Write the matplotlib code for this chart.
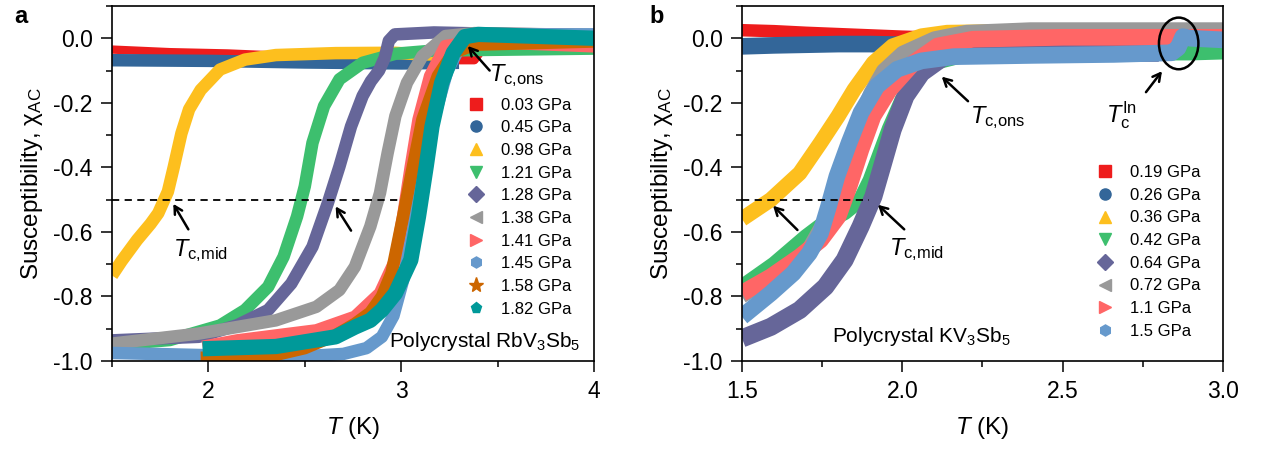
import matplotlib
matplotlib.use("Agg")
import matplotlib.pyplot as plt
from matplotlib.ticker import MultipleLocator, FormatStrFormatter
from matplotlib.patches import Ellipse

plt.rcParams['font.family'] = ['Liberation Sans', 'DejaVu Sans']
plt.rcParams['mathtext.fontset'] = 'custom'
plt.rcParams['mathtext.rm'] = 'Liberation Sans'
plt.rcParams['mathtext.it'] = 'Liberation Sans:italic'
plt.rcParams['mathtext.bf'] = 'Liberation Sans:bold'
plt.rcParams['axes.unicode_minus'] = False

# ---- panel a: polycrystal RbV3Sb5 ----
rb_labels = ['0.03 GPa', '0.45 GPa', '0.98 GPa', '1.21 GPa', '1.28 GPa',
             '1.38 GPa', '1.41 GPa', '1.45 GPa', '1.58 GPa', '1.82 GPa']
rb_colors = ['#ee1c1c', '#336699', '#fdbf1e', '#3dbf6e', '#666699',
             '#999999', '#ff6666', '#6699cc', '#cc6600', '#009999']
rb_markers = ['s', 'o', '^', 'v', 'D', '<', '>', 'h', '*', 'p']
rb_T = [
    [1.5, 1.8, 2.1, 2.3, 2.6, 2.9, 3.27, 3.38, 3.42, 3.5],
    [1.5, 2.0, 2.5, 3.0, 3.3],
    [1.5, 1.55, 1.63, 1.7, 1.74, 1.79, 1.82, 1.86, 1.9, 1.96, 2.06, 2.19, 2.35, 2.66, 2.97, 3.1, 3.25],
    [1.5, 1.8, 2.06, 2.19, 2.31, 2.39, 2.46, 2.5, 2.54, 2.6, 2.68, 2.8, 2.97, 3.17, 4.0],
    [1.5, 1.95, 2.15, 2.31, 2.43, 2.54, 2.62, 2.68, 2.74, 2.8, 2.843, 2.885, 2.915, 2.936, 2.967, 3.17, 3.4, 4.0],
    [1.5, 1.95, 2.35, 2.56, 2.68, 2.76, 2.84, 2.89, 2.93, 2.97, 3.03, 3.11, 3.23, 3.38, 4.0],
    [1.97, 2.15, 2.56, 2.76, 2.89, 2.97, 3.01, 3.05, 3.09, 3.15, 3.23, 3.38, 4.0],
    [1.5, 2.0, 2.5, 2.7, 2.82, 2.9, 2.96, 3.01, 3.06, 3.1, 3.16, 3.24, 3.32, 3.4, 4.0],
    [1.96, 2.3, 2.5, 2.66, 2.76, 2.84, 2.9, 2.95, 3.01, 3.05, 3.11, 3.19, 3.27, 3.38, 4.0],
    [1.97, 2.35, 2.66, 2.76, 2.84, 2.9, 2.97, 3.05, 3.09, 3.13, 3.16, 3.21, 3.27, 3.33, 3.4, 4.0],
]
rb_chi = [
    [-0.035, -0.043, -0.047, -0.052, -0.072, -0.074, -0.068, -0.068, -0.035, -0.03],
    [-0.068, -0.07, -0.075, -0.078, -0.076],
    [-0.735, -0.69, -0.625, -0.575, -0.542, -0.475, -0.4, -0.295, -0.22, -0.16, -0.097, -0.066, -0.052, -0.046, -0.045, -0.05, -0.05],
    [-0.95, -0.935, -0.89, -0.842, -0.77, -0.677, -0.552, -0.459, -0.324, -0.21, -0.127, -0.076, -0.048, -0.038, -0.032],
    [-0.936, -0.925, -0.889, -0.842, -0.76, -0.646, -0.51, -0.397, -0.273, -0.179, -0.133, -0.1, -0.06, -0.008, 0.012, 0.018, 0.015, 0.01],
    [-0.946, -0.915, -0.874, -0.832, -0.78, -0.708, -0.583, -0.48, -0.355, -0.241, -0.138, -0.055, 0.007, 0.016, 0.01],
    [-0.956, -0.936, -0.905, -0.863, -0.79, -0.687, -0.552, -0.397, -0.252, -0.117, -0.024, -0.01, -0.025],
    [-0.975, -0.982, -0.985, -0.978, -0.96, -0.925, -0.86, -0.75, -0.6, -0.45, -0.27, -0.1, -0.01, 0.012, 0.012],
    [-0.99, -0.988, -0.96, -0.92, -0.885, -0.85, -0.8, -0.728, -0.552, -0.43, -0.252, -0.117, -0.045, -0.02, -0.01],
    [-0.962, -0.955, -0.925, -0.895, -0.874, -0.842, -0.79, -0.687, -0.552, -0.397, -0.273, -0.138, -0.045, 0.005, 0.012, 0.0],
]
rb_widths = [6, 9, 9, 9, 9, 9, 9, 9, 9, 11]

# ---- panel b: polycrystal KV3Sb5 ----
k_labels = ['0.19 GPa', '0.26 GPa', '0.36 GPa', '0.42 GPa', '0.64 GPa',
            '0.72 GPa', '1.1 GPa', '1.5 GPa']
k_colors = ['#ee1c1c', '#336699', '#fdbf1e', '#3dbf6e', '#666699',
            '#999999', '#ff6666', '#6699cc']
k_markers = ['s', 'o', '^', 'v', 'D', '<', '>', 'h']
k_T = [
    [1.5, 1.6, 1.7, 1.8, 1.9, 2.0, 2.1, 2.3, 2.6, 2.9, 3.0],
    [1.5, 1.6, 1.7, 1.8, 1.9, 2.0, 2.3, 3.0],
    [1.5, 1.59, 1.68, 1.745, 1.8, 1.85, 1.91, 1.97, 2.06, 2.14, 2.3, 3.0],
    [1.5, 1.6, 1.7, 1.76, 1.82, 1.87, 1.9, 1.93, 1.96, 2.0, 2.05, 2.1, 2.2, 2.6, 2.9, 3.0],
    [1.5, 1.59, 1.68, 1.76, 1.82, 1.87, 1.91, 1.94, 1.97, 2.01, 2.06, 2.14, 2.3, 2.6, 2.8],
    [1.5, 1.6, 1.7, 1.76, 1.8, 1.84, 1.87, 1.9, 1.94, 2.0, 2.1, 2.2, 2.4, 3.0],
    [1.5, 1.59, 1.68, 1.745, 1.8, 1.834, 1.871, 1.909, 1.96, 2.035, 2.11, 2.22, 2.5, 3.0],
    [1.5, 1.59, 1.66, 1.71, 1.745, 1.77, 1.796, 1.834, 1.871, 1.921, 1.984, 2.06, 2.16, 2.41, 2.66, 2.84, 2.86, 2.875, 2.9, 3.0],
]
k_chi = [
    [0.025, 0.022, 0.017, 0.013, 0.009, 0.005, 0.002, 0.0, 0.0, 0.003, 0.01],
    [-0.025, -0.022, -0.02, -0.018, -0.018, -0.02, -0.02, -0.02],
    [-0.56, -0.5, -0.418, -0.324, -0.241, -0.159, -0.076, -0.024, 0.007, 0.018, 0.02, 0.02],
    [-0.77, -0.7, -0.615, -0.57, -0.54, -0.5, -0.44, -0.36, -0.28, -0.19, -0.12, -0.075, -0.05, -0.045, -0.045, -0.042],
    [-0.93, -0.894, -0.842, -0.77, -0.687, -0.583, -0.49, -0.387, -0.283, -0.179, -0.107, -0.05, -0.045, -0.045, -0.045],
    [-0.8, -0.74, -0.665, -0.56, -0.45, -0.33, -0.24, -0.17, -0.1, -0.045, 0.0, 0.02, 0.028, 0.028],
    [-0.79, -0.739, -0.677, -0.625, -0.552, -0.459, -0.345, -0.241, -0.159, -0.076, -0.024, -0.003, 0.003, 0.003],
    [-0.863, -0.79, -0.728, -0.666, -0.604, -0.521, -0.428, -0.324, -0.231, -0.148, -0.096, -0.07, -0.057, -0.053, -0.05, -0.045, -0.03, 0.005, 0.0, -0.005],
]
k_widths = [9, 12, 11, 11, 13, 10, 12, 12]

fig = plt.figure(figsize=(12.64, 4.54), dpi=100)
ax1 = fig.add_axes([0.0886, 0.2048, 0.3813, 0.782])
ax2 = fig.add_axes([0.587, 0.2048, 0.3805, 0.782])


def style_axis(ax):
    for s in ax.spines.values():
        s.set_linewidth(1.2)
    ax.tick_params(which='both', direction='out', width=1.1, labelsize=16.5,
                   top=False, right=False)
    ax.tick_params(which='major', length=8, pad=6)
    ax.tick_params(which='minor', length=4.5)
    ax.set_ylim(-1.0, 0.1)
    ax.yaxis.set_major_locator(MultipleLocator(0.2))
    ax.yaxis.set_minor_locator(MultipleLocator(0.1))
    ax.yaxis.set_major_formatter(FormatStrFormatter('%.1f'))
    ax.set_ylabel('Susceptibility, χ$_{\\rm AC}$', fontsize=17.5, labelpad=6)
    ax.set_xlabel('$T$ (K)', fontsize=17.5, labelpad=8)


def draw_bands(ax, Ts, chis, colors, widths, markers, labels):
    for T, c, col, w in zip(Ts, chis, colors, widths):
        ax.plot(T, c, color=col, lw=w, solid_joinstyle='round',
                solid_capstyle='butt')
    for col, m, lab in zip(colors, markers, labels):
        ms = 11 if m == '*' else 8
        ax.plot([], [], ls='none', marker=m, color=col, ms=ms, label=lab)


def tc_arrow(ax, head, tail):
    ax.annotate('', xy=head, xytext=tail,
                arrowprops=dict(arrowstyle='->,head_length=0.55,head_width=0.3',
                                lw=1.8, color='black', shrinkA=0, shrinkB=0))


legend_opts = dict(loc='upper left', frameon=False, fontsize=12,
                   handlelength=1.0, handletextpad=1.0, labelspacing=0.46,
                   borderpad=0, borderaxespad=0, numpoints=1)

# panel a
draw_bands(ax1, rb_T, rb_chi, rb_colors, rb_widths, rb_markers, rb_labels)
style_axis(ax1)
ax1.set_xlim(1.5, 4.0)
ax1.xaxis.set_major_locator(MultipleLocator(1))
ax1.xaxis.set_minor_locator(MultipleLocator(0.5))
ax1.xaxis.set_major_formatter(FormatStrFormatter('%d'))
ax1.plot([1.5, 2.99], [-0.5, -0.5], ls=(0, (4, 3)), color='black', lw=1.3)
tc_arrow(ax1, (1.818, -0.513), (1.896, -0.592))
tc_arrow(ax1, (2.66, -0.521), (2.74, -0.596))
tc_arrow(ax1, (3.346, -0.024), (3.459, -0.10))
ax1.text(1.815, -0.675, '$T_{\\rm c{,}mid}$', fontsize=17, ha='left', va='baseline')
ax1.text(3.455, -0.133, '$T_{\\rm c{,}ons}$', fontsize=17, ha='left', va='baseline')
ax1.text(3.93, -0.957, 'Polycrystal RbV$_3$Sb$_5$', fontsize=15, ha='right', va='baseline')
ax1.legend(bbox_to_anchor=(0.738, 0.742), **legend_opts)

# panel b
draw_bands(ax2, k_T, k_chi, k_colors, k_widths, k_markers, k_labels)
style_axis(ax2)
ax2.set_xlim(1.5, 3.0)
ax2.xaxis.set_major_locator(MultipleLocator(0.5))
ax2.xaxis.set_minor_locator(MultipleLocator(0.25))
ax2.xaxis.set_major_formatter(FormatStrFormatter('%.1f'))
ax2.plot([1.5, 1.897], [-0.5, -0.5], ls=(0, (4, 3)), color='black', lw=1.3)
tc_arrow(ax2, (1.597, -0.519), (1.673, -0.594))
tc_arrow(ax2, (1.924, -0.516), (2.006, -0.592))
tc_arrow(ax2, (2.123, -0.119), (2.205, -0.195))
tc_arrow(ax2, (2.81, -0.102), (2.76, -0.167))
ax2.add_patch(Ellipse((2.862, -0.016), 0.123, 0.16, fill=False, lw=1.8,
                      edgecolor='black', zorder=5))
ax2.text(1.96, -0.672, '$T_{\\rm c{,}mid}$', fontsize=17, ha='left', va='baseline')
ax2.text(2.21, -0.262, '$T_{\\rm c{,}ons}$', fontsize=17, ha='left', va='baseline')
ax2.text(2.635, -0.262, '$T_{\\rm c}^{\\rm In}$', fontsize=17, ha='left', va='baseline')
ax2.text(1.78, -0.941, 'Polycrystal KV$_3$Sb$_5$', fontsize=15, ha='left', va='baseline')
ax2.legend(bbox_to_anchor=(0.737, 0.552), **legend_opts)

fig.text(0.011, 0.988, 'a', fontsize=17, fontweight='bold', ha='left', va='top')
fig.text(0.514, 0.988, 'b', fontsize=17, fontweight='bold', ha='left', va='top')

fig.savefig('out.png', dpi=100)
